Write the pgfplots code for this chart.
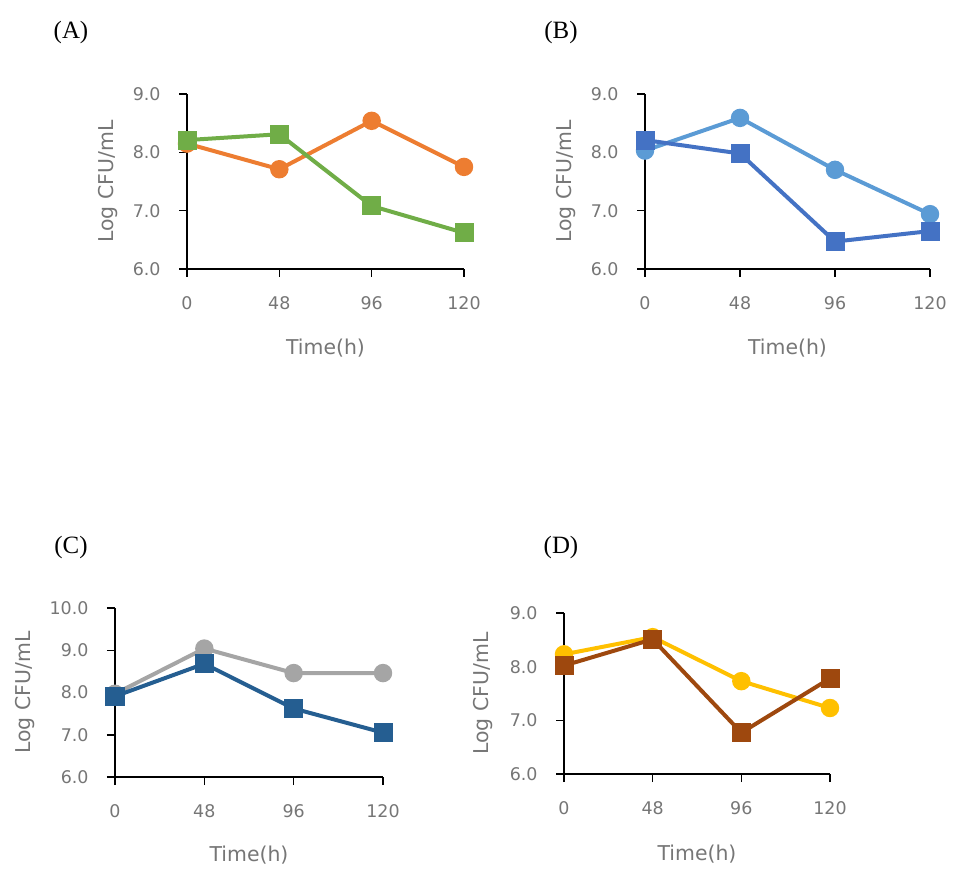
\documentclass[border=0pt]{standalone}
\usepackage{pgfplots}
\pgfplotsset{compat=1.18}
\usepackage{fontspec}
\setmainfont{DejaVu Sans}
\newfontfamily\seriffont{Liberation Serif}
\definecolor{corange}{HTML}{ED7D31}
\definecolor{cgreen}{HTML}{70AD47}
\definecolor{clblue}{HTML}{5B9BD5}
\definecolor{cdblue}{HTML}{4472C4}
\definecolor{cgray}{HTML}{A5A5A5}
\definecolor{cnavy}{HTML}{255E91}
\definecolor{cyellow}{HTML}{FFC000}
\definecolor{cbrown}{HTML}{9E480E}
\definecolor{txtgray}{HTML}{767676}
\pgfplotsset{
  panel/.style={
    scale only axis,
    axis x line=bottom, axis y line=left,
    axis line style={-, line width=1.5bp, black},
    tick align=outside, major tick length=8bp,
    every tick/.style={black, line width=1.5bp},
    xmin=0, xmax=3, xtick={0,1,2,3}, xticklabels={0,48,96,120},
    ymin=6, ymax=9, ytick={6,7,8,9},
    /pgf/number format/assume math mode=true,
    tick label style={font=\fontsize{17.5}{20}\selectfont, text=txtgray},
    yticklabel style={xshift=-15bp, /pgf/number format/.cd, fixed, fixed zerofill, precision=1},
    xticklabel style={yshift=-16bp},
    label style={font=\fontsize{20.5}{23}\selectfont, text=txtgray},
    xlabel={Time(h)}, ylabel={Log CFU/mL},
    clip=false,
  },
  circ/.style={line width=4bp, mark=*, mark size=7.2bp, mark options={solid}},
  sq/.style={line width=4bp, mark=square*, mark size=7.5bp, mark options={solid}},
}
\begin{document}
\begin{tikzpicture}
\useasboundingbox (0bp,0bp) rectangle (971bp,889bp);
\node[font=\seriffont\fontsize{25}{28}\selectfont] at (71bp,856bp) {(A)};
\node[font=\seriffont\fontsize{25}{28}\selectfont] at (561bp,856bp) {(B)};
\node[font=\seriffont\fontsize{25}{28}\selectfont] at (71bp,341bp) {(C)};
\node[font=\seriffont\fontsize{25}{28}\selectfont] at (561bp,341bp) {(D)};
% (A)
\begin{axis}[panel, at={(187bp,620bp)}, anchor=south west, width=277bp, height=175bp,
  ylabel style={at={(axis description cs:-0.285,0.5)}, anchor=center},
  xlabel style={at={(axis description cs:0.5,-0.451)}, anchor=center}]
\addplot[circ, color=corange] coordinates {(0,8.15) (1,7.71) (2,8.54) (3,7.75)};
\addplot[sq, color=cgreen] coordinates {(0,8.21) (1,8.31) (2,7.08) (3,6.62)};
\end{axis}
% (B)
\begin{axis}[panel, at={(645bp,620bp)}, anchor=south west, width=285bp, height=175bp,
  ylabel style={at={(axis description cs:-0.277,0.5)}, anchor=center},
  xlabel style={at={(axis description cs:0.5,-0.451)}, anchor=center}]
\addplot[circ, color=clblue] coordinates {(0,8.03) (1,8.59) (2,7.70) (3,6.94)};
\addplot[sq, color=cdblue] coordinates {(0,8.21) (1,7.98) (2,6.47) (3,6.65)};
\end{axis}
% (C)
\begin{axis}[panel, at={(115bp,112bp)}, anchor=south west, width=268bp, height=169bp,
  ymin=6, ymax=10, ytick={6,7,8,9,10},
  ylabel style={at={(axis description cs:-0.336,0.5)}, anchor=center},
  xlabel style={at={(axis description cs:0.5,-0.462)}, anchor=center}]
\addplot[circ, color=cgray] coordinates {(0,7.97) (1,9.04) (2,8.46) (3,8.46)};
\addplot[sq, color=cnavy] coordinates {(0,7.91) (1,8.68) (2,7.62) (3,7.05)};
\end{axis}
% (D)
\begin{axis}[panel, at={(564bp,115bp)}, anchor=south west, width=266bp, height=161bp,
  ylabel style={at={(axis description cs:-0.305,0.5)}, anchor=center},
  xlabel style={at={(axis description cs:0.5,-0.497)}, anchor=center}]
\addplot[circ, color=cyellow] coordinates {(0,8.23) (1,8.55) (2,7.73) (3,7.23)};
\addplot[sq, color=cbrown] coordinates {(0,8.02) (1,8.51) (2,6.77) (3,7.78)};
\end{axis}
\end{tikzpicture}
\end{document}
